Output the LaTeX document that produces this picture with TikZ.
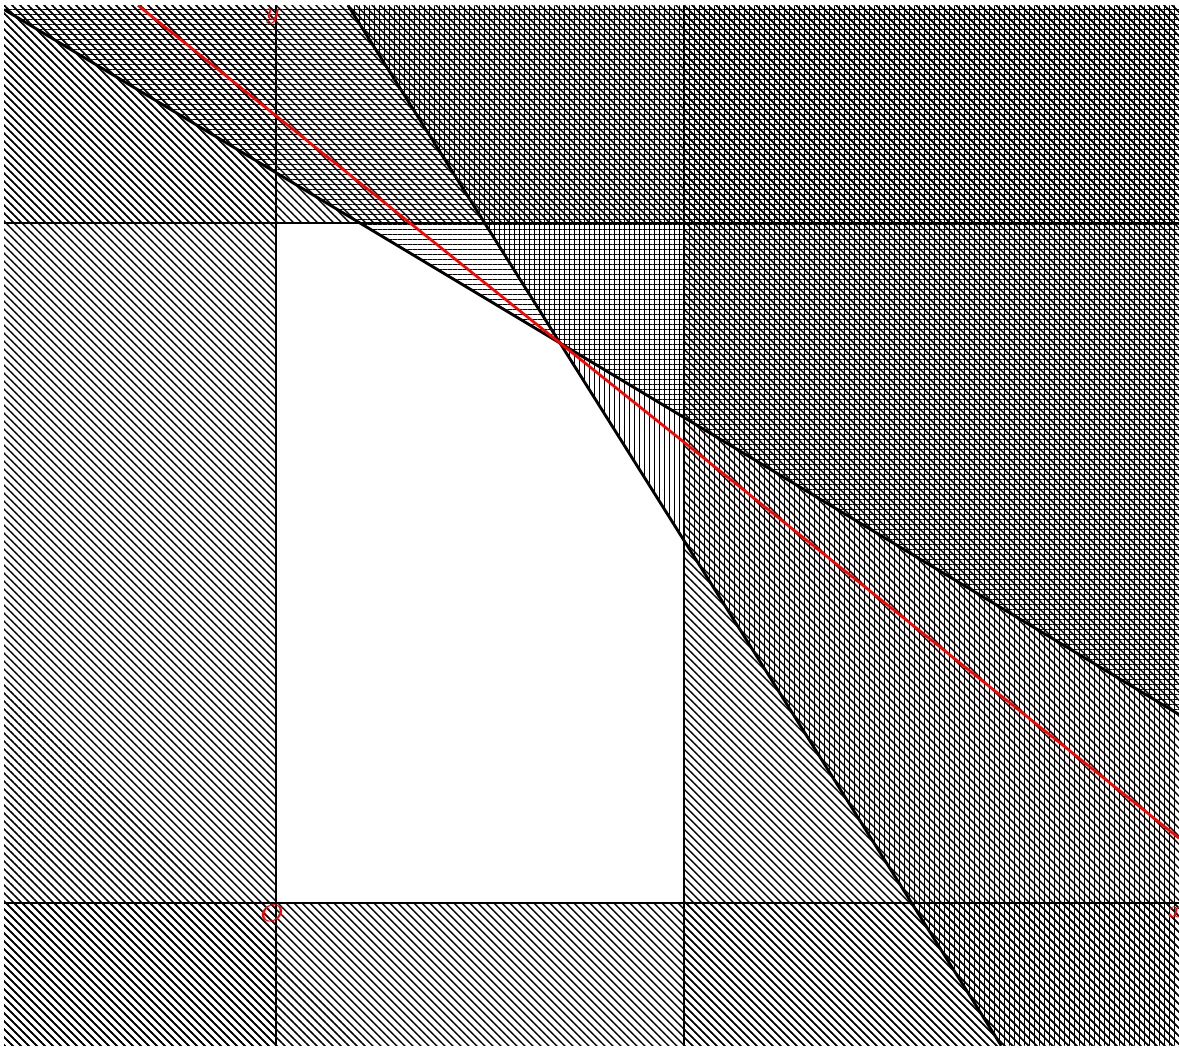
\documentclass[tikz,border=0pt]{standalone}
\usepackage{tikz}
\usetikzlibrary{patterns.meta}

\begin{document}
\begin{tikzpicture}[
  wall/.style={pattern={Lines[angle=-45,distance=1.1835pt,line width=.3pt]}},
  hhatch/.style={pattern={Lines[angle=0,distance=1.046pt,line width=.22pt]}},
  vhatch/.style={pattern={Lines[angle=90,distance=1.046pt,line width=.22pt]}},
  bound/.style={line width=.6pt},
  goal/.style={red, line width=.55pt},
  lbl/.style={red, inner sep=0pt, font=\fontsize{1.4}{1.4}\selectfont}
]
  \useasboundingbox (-2.03,-1.074) rectangle (6.64,6.64);
  \begin{scope}
    \clip (-2,-1.05) rectangle (6.64,6.6);
    % outside the box bounds
    \path[wall] (-2,-1.05) rectangle (0,6.6);
    \path[wall] (3,-1.05) rectangle (6.64,6.6);
    \path[wall] (-2,-1.05) rectangle (6.64,0);
    \path[wall] (-2,5) rectangle (6.64,6.6);
    % outside the two slanted constraints
    \path[hhatch] (-2,6.57) -- (6.64,1.386) -- (6.64,6.6) -- (-2,6.6) -- cycle;
    \path[vhatch] (0.529,6.6) -- (5.333,-1.05) -- (6.64,-1.05) -- (6.64,6.6) -- cycle;
    % constraint lines
    \draw[bound] (0,-1.05) -- (0,6.6);
    \draw[bound] (3,-1.05) -- (3,6.6);
    \draw[bound] (-2,0) -- (6.64,0);
    \draw[bound] (-2,5) -- (6.64,5);
    \draw[bound] (-2,6.57) -- (6.64,1.386);
    \draw[bound] (0.529,6.6) -- (5.333,-1.05);
    % objective line
    \draw[goal] (-1.015,6.6) -- (6.64,0.476);
  \end{scope}
  \node[lbl] (ylabel) at (-0.03,6.52) {$y$};
  \node[lbl] (origin) at (-0.03,-0.074) {$O$};
  \node[lbl] (xlabel) at (6.618,-0.066) {$x$};
\end{tikzpicture}
\end{document}
